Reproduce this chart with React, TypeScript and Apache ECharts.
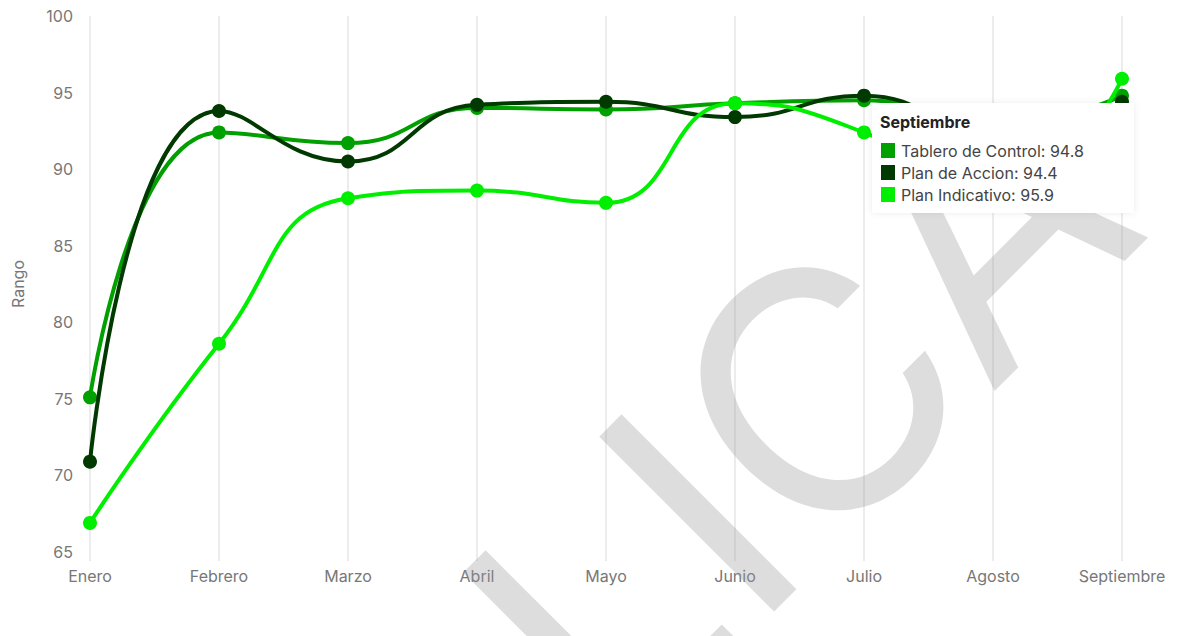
import React, { useEffect, useRef } from "react";
import * as echarts from "echarts";

const months = ["Enero", "Febrero", "Marzo", "Abril", "Mayo", "Junio", "Julio", "Agosto", "Septiembre"];
const tablero = [75.1, 92.4, 91.7, 94.0, 93.9, 94.3, 94.5, 92.8, 94.8];
const accion = [70.9, 93.8, 90.5, 94.2, 94.4, 93.4, 94.8, 92.3, 94.4];
const indicativo = [66.9, 78.6, 88.1, 88.6, 87.8, 94.3, 92.4, 88.0, 95.9];
const seriesNames = ["Tablero de Control", "Plan de Accion", "Plan Indicativo"];
const colors = ["#00a000", "#003a00", "#00ee00"];
const yTicks = { min: 65, max: 100, interval: 5 };
const tipIndex = 8;

const FONT = "Inter, 'Open Sans', sans-serif";

export default function App() {
  const ref = useRef<HTMLDivElement>(null);
  useEffect(() => {
    document.body.style.margin = "0";
    if (!ref.current) return;
    const chart = echarts.init(ref.current, null, { renderer: "svg" });
    const data = [tablero, accion, indicativo];
    const tipLines = seriesNames.map((n, i) => `${n}: ${data[i][tipIndex]}`);
    const TZ = 200;
    chart.setOption({
      animation: false,
      textStyle: { fontFamily: FONT },
      grid: { left: 90, right: 61, top: 16, bottom: 84 },
      xAxis: {
        type: "category",
        data: months,
        boundaryGap: false,
        axisLine: { show: false },
        axisTick: { show: true, length: 9, lineStyle: { color: "#ececec", width: 2 } },
        axisLabel: { color: "#777777", fontSize: 16, margin: 16, fontFamily: FONT },
        splitLine: { show: true, lineStyle: { color: "#ececec", width: 2 } },
      },
      yAxis: {
        type: "value",
        min: yTicks.min,
        max: yTicks.max,
        interval: yTicks.interval,
        name: "Rango",
        nameLocation: "middle",
        nameGap: 64,
        nameTextStyle: { color: "#777777", fontSize: 16, fontFamily: FONT },
        axisLine: { show: false },
        axisTick: { show: false },
        splitLine: { show: false },
        axisLabel: { color: "#777777", fontSize: 16, margin: 17, fontFamily: FONT },
      },
      series: data.map((d, i) => ({
        name: seriesNames[i],
        type: "line",
        data: d,
        smooth: true,
        symbol: "circle",
        symbolSize: 14,
        lineStyle: { color: colors[i], width: 4 },
        itemStyle: { color: colors[i] },
        z: 3 + i,
      })),
      graphic: [
        {
          type: "text",
          x: 572,
          y: 639,
          rotation: Math.PI / 4,
          z: 50,
          silent: true,
          style: {
            text: "REPLICA",
            fontSize: 340,
            fontFamily: FONT,
            fill: "rgba(150,150,150,0.32)",
            textAlign: "center",
            textVerticalAlign: "middle",
          },
        },
        {
          type: "rect",
          z: TZ,
          shape: { x: 872, y: 103, width: 262, height: 110 },
          style: { fill: "#ffffff", shadowBlur: 6, shadowColor: "rgba(0,0,0,0.08)" },
        },
        {
          type: "text",
          z: TZ + 1,
          x: 880,
          y: 122,
          style: {
            text: months[tipIndex],
            fontSize: 16,
            fontWeight: "bold",
            fontFamily: FONT,
            fill: "#222",
            textVerticalAlign: "middle",
          },
        },
        ...tipLines.flatMap((t, i) => [
          {
            type: "rect",
            z: TZ + 1,
            shape: { x: 881, y: 143 + i * 22, width: 14, height: 15 },
            style: { fill: colors[i] },
          },
          {
            type: "text",
            z: TZ + 1,
            x: 901,
            y: 151 + i * 22,
            style: {
              text: t,
              fontSize: 16,
              fontFamily: FONT,
              fill: "#444",
              textVerticalAlign: "middle",
            },
          },
        ]),
      ],
    });
    return () => chart.dispose();
  }, []);
  return <div ref={ref} style={{ width: 1183, height: 636 }} />;
}
